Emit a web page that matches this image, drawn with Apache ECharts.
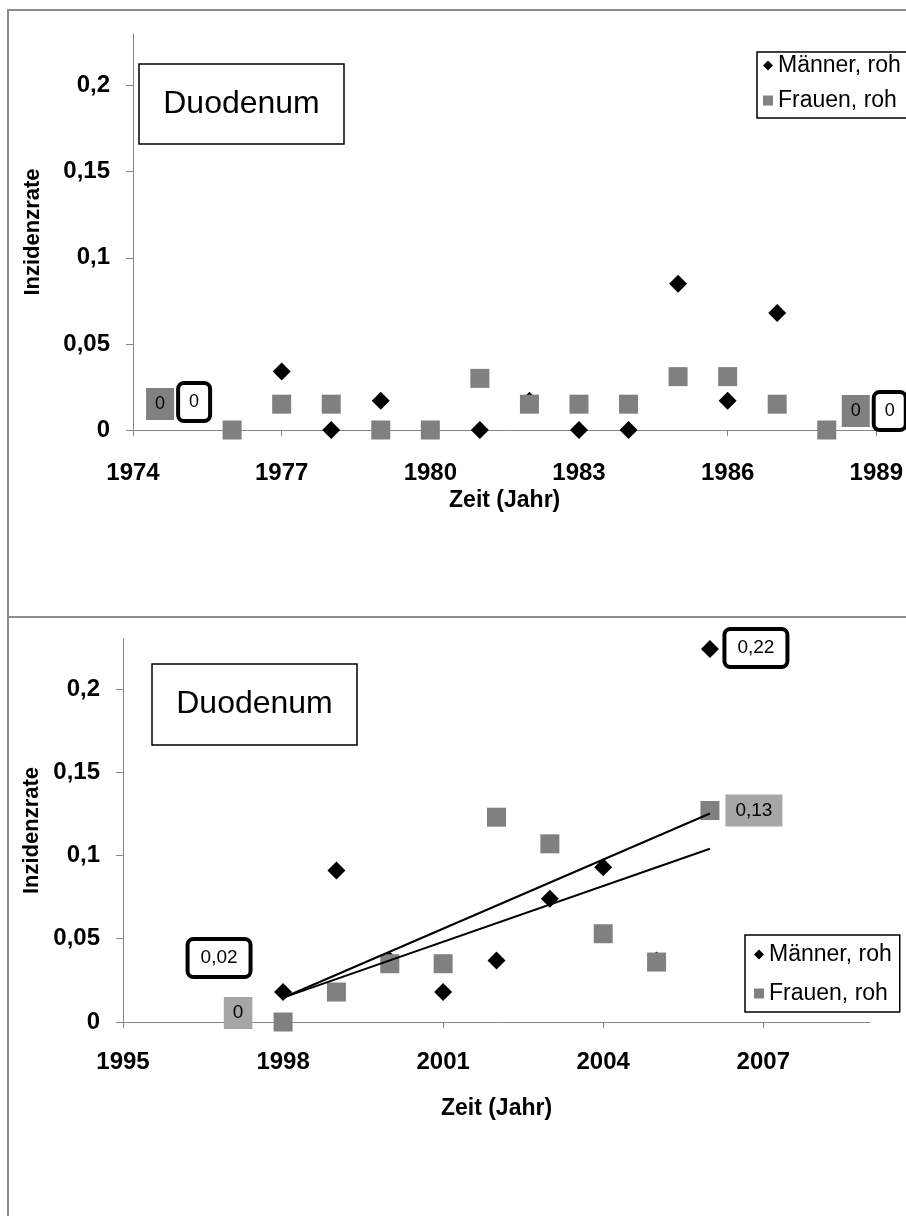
<!DOCTYPE html>
<html>
<head>
<meta charset="utf-8">
<script src="https://cdn.jsdelivr.net/npm/echarts@6/dist/echarts.min.js"></script>
<style>
  html, body { margin: 0; padding: 0; background: #fff; }
  #chart { width: 906px; height: 1216px; }
</style>
</head>
<body>
<div id="chart"></div>
<script>
// Duodenum, raw incidence rates by sex — period 1976–1988
const yearsA = [1976, 1977, 1978, 1979, 1980, 1981, 1982, 1983, 1984, 1985, 1986, 1987, 1988];
const menA   = [0, 0.034, 0, 0.017, 0, 0, 0.017, 0, 0, 0.085, 0.017, 0.068, 0];
const womenA = [0, 0.015, 0.015, 0, 0, 0.030, 0.015, 0.015, 0.015, 0.031, 0.031, 0.015, 0];

// Period 1998–2006
const yearsB = [1998, 1999, 2000, 2001, 2002, 2003, 2004, 2005, 2006];
const menB   = [0.018, 0.091, 0.037, 0.018, 0.037, 0.074, 0.093, 0.037, 0.224];
const womenB = [0, 0.018, 0.035, 0.035, 0.123, 0.107, 0.053, 0.036, 0.127];

// Tick values
const xTicksA = [1974, 1977, 1980, 1983, 1986, 1989];
const xTicksB = [1995, 1998, 2001, 2004, 2007];
const yTicks  = [0, 0.05, 0.1, 0.15, 0.2];

const seriesNames = ['Männer, roh', 'Frauen, roh'];
const panelTitle = 'Duodenum';
const xName = 'Zeit (Jahr)';
const yName = 'Inzidenzrate';

const FONT = 'Liberation Sans, Arial, Helvetica, sans-serif';
const GRAY = '#808080';
const AXIS = '#868686';

// German decimal format, at most two decimals
const fmt = v => String(+(+v).toFixed(2)).replace('.', ',');

// Label box styles
const boxDark = { backgroundColor: GRAY, padding: [7, 9], fontSize: 18, lineHeight: 18 };
const boxLight = { backgroundColor: '#a6a6a6', padding: [7, 9], fontSize: 19, lineHeight: 18 };
const boxOutlined = { backgroundColor: '#fff', borderColor: '#000', borderWidth: 4, borderRadius: 4, padding: [8, 9], fontSize: 18, lineHeight: 18 };

// Annotated points: which data point gets a value label, and where the box sits
const notes = {
  menA:   { 1976: { box: boxOutlined, offset: [-38, -28] }, 1988: { box: boxOutlined, offset: [63, -19] } },
  womenA: { 1976: { box: boxDark, offset: [-72, -26] }, 1988: { box: boxDark, offset: [29, -19] } },
  menB:   { 1998: { box: Object.assign({}, boxOutlined, { padding: [8, 11], fontSize: 19 }), offset: [-64, -34] },
            2006: { box: Object.assign({}, boxOutlined, { padding: [8, 11], fontSize: 19 }), offset: [46, -1] } },
  womenB: { 1998: { box: boxLight, offset: [-45, -9] },
            2006: { box: Object.assign({}, boxLight, { padding: [7, 10] }), offset: [44, 0] } }
};

function points(years, values, noteMap) {
  return years.map((yr, i) => {
    const item = { value: [yr, values[i]] };
    const n = noteMap[yr];
    if (n) {
      item.label = Object.assign({
        show: true, position: 'inside', offset: n.offset,
        formatter: p => fmt(p.value[1]), color: '#000', fontFamily: FONT
      }, n.box);
    }
    return item;
  });
}

// Least-squares linear trend over the plotted points
function trend(years, values) {
  const n = years.length;
  const mx = years.reduce((a, b) => a + b, 0) / n;
  const my = values.reduce((a, b) => a + b, 0) / n;
  let sxy = 0, sxx = 0;
  for (let i = 0; i < n; i++) {
    sxy += (years[i] - mx) * (values[i] - my);
    sxx += (years[i] - mx) * (years[i] - mx);
  }
  const b = sxy / sxx, a = my - b * mx;
  const x0 = years[0], x1 = years[n - 1];
  return [[x0, a + b * x0], [x1, a + b * x1]];
}

function xAxis(gridIndex, min, max, ticks, labelMargin, nameGap) {
  return {
    type: 'value', gridIndex, min, max,
    name: xName, nameLocation: 'middle', nameGap, nameMoveOverlap: false,
    nameTextStyle: { fontFamily: FONT, fontWeight: 'bold', fontSize: 23, color: '#000', lineHeight: 22 },
    axisLine: { show: true, onZero: false, lineStyle: { color: AXIS, width: 1 } },
    axisTick: { show: true, length: 6, customValues: ticks, lineStyle: { color: AXIS } },
    axisLabel: {
      customValues: ticks, margin: labelMargin, color: '#000',
      fontFamily: FONT, fontWeight: 'bold', fontSize: 24, lineHeight: 24,
      formatter: v => String(v)
    },
    splitLine: { show: false }
  };
}

function yAxis(gridIndex, nameGap) {
  return {
    type: 'value', gridIndex, min: 0, max: 0.23,
    name: yName, nameLocation: 'middle', nameRotate: 90, nameGap, nameMoveOverlap: false,
    nameTextStyle: { fontFamily: FONT, fontWeight: 'bold', fontSize: 22, color: '#000', lineHeight: 22 },
    axisLine: { show: true, lineStyle: { color: AXIS, width: 1 } },
    axisTick: { show: true, length: 7, customValues: yTicks, lineStyle: { color: AXIS } },
    axisLabel: {
      customValues: yTicks, margin: 23, color: '#000',
      fontFamily: FONT, fontWeight: 'bold', fontSize: 24, formatter: v => fmt(v)
    },
    splitLine: { show: false }
  };
}

function scatter(name, xi, data, isMen) {
  return {
    name, type: 'scatter', xAxisIndex: xi, yAxisIndex: xi,
    symbol: isMen ? 'diamond' : 'rect',
    symbolSize: isMen ? 18 : 19,
    itemStyle: { color: isMen ? '#000' : GRAY, opacity: 1 },
    emphasis: { disabled: true },
    data
  };
}

function trendSeries(name, data) {
  return {
    name, type: 'line', xAxisIndex: 1, yAxisIndex: 1, z: 4,
    symbol: 'none', silent: true,
    lineStyle: { color: '#000', width: 2 },
    data
  };
}

function legend(left, top, padding, itemGap) {
  return {
    data: seriesNames, orient: 'vertical', left, top, padding, itemGap,
    itemWidth: 10, itemHeight: 10, selectedMode: false,
    borderColor: '#000', borderWidth: 1.5, backgroundColor: '#fff',
    textStyle: { fontFamily: FONT, fontSize: 23, color: '#000', lineHeight: 20 }
  };
}

function titleBox(x, y, w, h) {
  return [
    { type: 'rect', shape: { x, y, width: w, height: h }, style: { fill: '#fff', stroke: '#000', lineWidth: 1.5 }, z: 10 },
    { type: 'text', x: x + w / 2, y: y + h / 2, z: 11,
      style: { text: panelTitle, font: '32px ' + FONT, fill: '#000', align: 'center', verticalAlign: 'middle' } }
  ];
}

const frame = { stroke: '#8c8c8c', lineWidth: 2 };

const option = {
  animation: false,
  backgroundColor: '#fff',
  grid: [
    { left: 133, top: 34, width: 744, height: 396 },
    { left: 123, top: 639, width: 747, height: 383 }
  ],
  xAxis: [
    xAxis(0, 1974, 1989, xTicksA, 31, 60),
    xAxis(1, 1995, 2009, xTicksB, 28, 76)
  ],
  yAxis: [
    yAxis(0, 89),
    yAxis(1, 80)
  ],
  legend: [
    legend(757, 52, [2, 30, 6, 6], 12),
    legend(745, 935, [8, 8, 7, 9], 16)
  ],
  series: [
    scatter(seriesNames[0], 0, points(yearsA, menA, notes.menA), true),
    scatter(seriesNames[1], 0, points(yearsA, womenA, notes.womenA), false),
    scatter(seriesNames[0], 1, points(yearsB, menB, notes.menB), true),
    scatter(seriesNames[1], 1, points(yearsB, womenB, notes.womenB), false),
    trendSeries('Trend Männer', trend(yearsB, menB)),
    trendSeries('Trend Frauen', trend(yearsB, womenB))
  ],
  graphic: [
    { type: 'line', shape: { x1: 7, y1: 10, x2: 906, y2: 10 }, style: frame },
    { type: 'line', shape: { x1: 8, y1: 10, x2: 8, y2: 1216 }, style: frame },
    { type: 'line', shape: { x1: 8, y1: 617, x2: 906, y2: 617 }, style: frame },
    ...titleBox(139, 64, 205, 80),
    ...titleBox(152, 664, 205, 81)
  ]
};

const chart = echarts.init(document.getElementById('chart'), null, { renderer: 'canvas' });
chart.setOption(option);
</script>
</body>
</html>
